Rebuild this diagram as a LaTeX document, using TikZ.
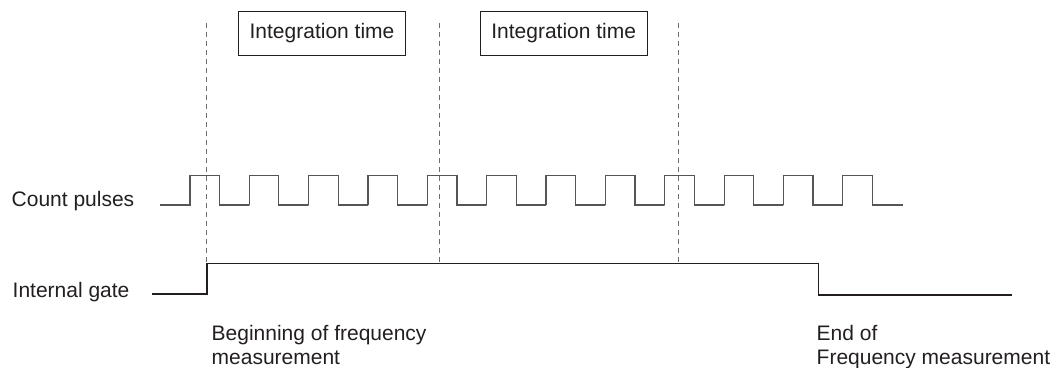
\documentclass[tikz,border=0pt]{standalone}
\usepackage{fontspec}
\setmainfont{Liberation Sans}
\definecolor{txt}{HTML}{231F20}
\definecolor{pulse}{HTML}{555555}
\definecolor{dash}{HTML}{707070}
\begin{document}
\begin{tikzpicture}[x=1pt,y=-1pt,
  lbl/.style={font=\fontsize{21}{24}\selectfont, text=txt, inner sep=0pt, anchor=base west, align=left},
  intbox/.style={draw=txt, line width=1pt, minimum width=167pt, minimum height=44pt, inner sep=0pt, font=\fontsize{21}{24}\selectfont, text=txt},
  pulseline/.style={draw=pulse, line width=1.1pt},
  gateline/.style={draw=txt, line width=1.1pt},
  marker/.style={draw=dash, line width=1.1pt, dash pattern=on 5pt off 4pt}]
\useasboundingbox (0,0) rectangle (1056,367);

% integration time boxes
\node[intbox] (int1) at (322,33) {Integration time};
\node[intbox] (int2) at (563.7,33) {Integration time};

% labels
\node[lbl] (cnt) at (11.5,206) {Count pulses};
\node[lbl] (gate) at (12.5,297) {Internal gate};
\node[lbl] (beg) at (211.5,364) {Beginning of frequency\\measurement};
\node[lbl] (endm) at (816.5,364) {End of\\Frequency measurement};

% count pulses
\coordinate (p0) at (160,205);
\coordinate (p1) at (902.3,205);
\draw[pulseline] (p0) -- (190,205)
  \foreach \k in {0,...,11} {
    -- ({190+59.34*\k},205) -- ({190+59.34*\k},175.3)
    -- ({219.6+59.34*\k},175.3) -- ({219.6+59.34*\k},205)
    -- ({219.6+59.34*\k+29.74},205)
  } -- (p1);

% internal gate
\coordinate (g0) at (151.7,294);
\coordinate (g1) at (207,294);
\coordinate (g2) at (207,263.3);
\coordinate (g3) at (818.3,263.3);
\coordinate (g4) at (818.3,295);
\coordinate (g5) at (1011.7,295);
\draw[gateline] (g0) -- (g1) -- (g2) -- (g3) -- (g4) -- (g5);

% dashed markers
\coordinate (d1t) at (206.7,22.7);
\coordinate (d1b) at (206.7,263.3);
\coordinate (d2t) at (439.6,22.7);
\coordinate (d2b) at (439.6,263.3);
\coordinate (d3t) at (678.5,22.7);
\coordinate (d3b) at (678.5,263.3);
\draw[marker] (d1t) -- (d1b);
\draw[marker] (d2t) -- (d2b);
\draw[marker] (d3t) -- (d3b);
\end{tikzpicture}
\end{document}
